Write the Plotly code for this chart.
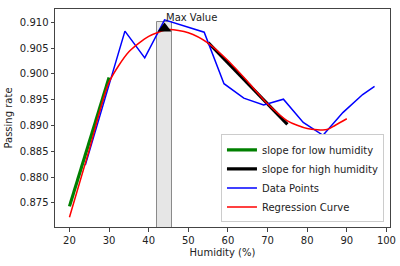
import plotly.graph_objects as go

# Data points (blue)
hum_pts = [24, 34, 39, 44, 54, 59, 64, 69, 74, 79, 84, 89, 94, 97]
rate_pts = [0.8823, 0.9083, 0.9031, 0.9105, 0.9081, 0.8981, 0.8953, 0.8940,
            0.8951, 0.8906, 0.8881, 0.8925, 0.8960, 0.8976]

# Regression curve (red)
hum_reg = [20, 25, 30, 35, 40, 45, 50, 55, 60, 65, 70, 75, 80, 85, 87, 90]
rate_reg = [0.8722, 0.8853, 0.8984, 0.9043, 0.9073, 0.9086, 0.9080, 0.9060,
            0.9026, 0.8985, 0.8942, 0.8909, 0.8894, 0.8892, 0.8900, 0.8913]

# Slope lines
hum_low = [20, 30]
rate_low = [0.8743, 0.8993]
hum_high = [55, 75]
rate_high = [0.9061, 0.8902]

# Max value marker and highlight bar
max_hum = [44]
max_rate = [0.9088]
bar_hum = [44]
bar_top = [0.910]
bar_base = 0.86
bar_width = 4

x_ticks = [20, 30, 40, 50, 60, 70, 80, 90, 100]
y_ticks = [0.875, 0.880, 0.885, 0.890, 0.895, 0.900, 0.905, 0.910]

FONT = "DejaVu Sans"
FS = 10
TXT = "#222222"

fig = go.Figure()

fig.add_trace(go.Bar(
    x=bar_hum, y=[t - bar_base for t in bar_top], base=bar_base, width=bar_width,
    marker=dict(color="#e6e6e6", line=dict(color="#8a8a8a", width=1)),
    showlegend=False, hoverinfo="skip"))

fig.add_trace(go.Scatter(x=hum_low, y=rate_low, mode="lines",
                         line=dict(color="green", width=3.2),
                         name="slope for low humidity"))
fig.add_trace(go.Scatter(x=hum_high, y=rate_high, mode="lines",
                         line=dict(color="black", width=3.2),
                         name="slope for high humidity"))
fig.add_trace(go.Scatter(x=hum_pts, y=rate_pts, mode="lines",
                         line=dict(color="blue", width=1.5),
                         name="Data Points"))
fig.add_trace(go.Scatter(x=hum_reg, y=rate_reg, mode="lines",
                         line=dict(color="red", width=1.5, shape="spline", smoothing=0.7),
                         name="Regression Curve"))
fig.add_trace(go.Scatter(x=max_hum, y=max_rate, mode="markers",
                         marker=dict(symbol="triangle-up", color="black", size=12),
                         showlegend=False, hoverinfo="skip"))

fig.add_annotation(x=max_hum[0], y=0.9110, text="Max Value", showarrow=False,
                   xanchor="left", yanchor="middle", xshift=-1,
                   font=dict(family=FONT, size=FS, color=TXT))

axis_common = dict(showline=True, linecolor="#444444", linewidth=1, mirror=True,
                   ticks="outside", ticklen=3.5, tickcolor="#444444", showgrid=False,
                   zeroline=False, automargin=False,
                   tickfont=dict(family=FONT, size=FS, color=TXT))

fig.update_xaxes(range=[16.35, 100.9], tickvals=x_ticks,
                 title=dict(text="Humidity (%)", standoff=4,
                            font=dict(family=FONT, size=FS, color=TXT)),
                 **axis_common)
fig.update_yaxes(range=[0.8703, 0.9126], tickvals=y_ticks, tickformat=".3f",
                 title=dict(text="Passing rate", standoff=5,
                            font=dict(family=FONT, size=FS, color=TXT)),
                 **axis_common)

fig.update_layout(
    width=400, height=266,
    margin=dict(l=54.5, r=10, t=9, b=38.5),
    plot_bgcolor="white", paper_bgcolor="white",
    bargap=0,
    legend=dict(x=0.982, y=0.021, xanchor="right", yanchor="bottom",
                bgcolor="white", bordercolor="#cccccc", borderwidth=1,
                font=dict(family=FONT, size=FS, color=TXT),
                tracegroupgap=0, itemwidth=30),
    showlegend=True,
)

fig.write_html("out.html", config={"displayModeBar": False},
               post_script="document.body.style.margin='0px';")
